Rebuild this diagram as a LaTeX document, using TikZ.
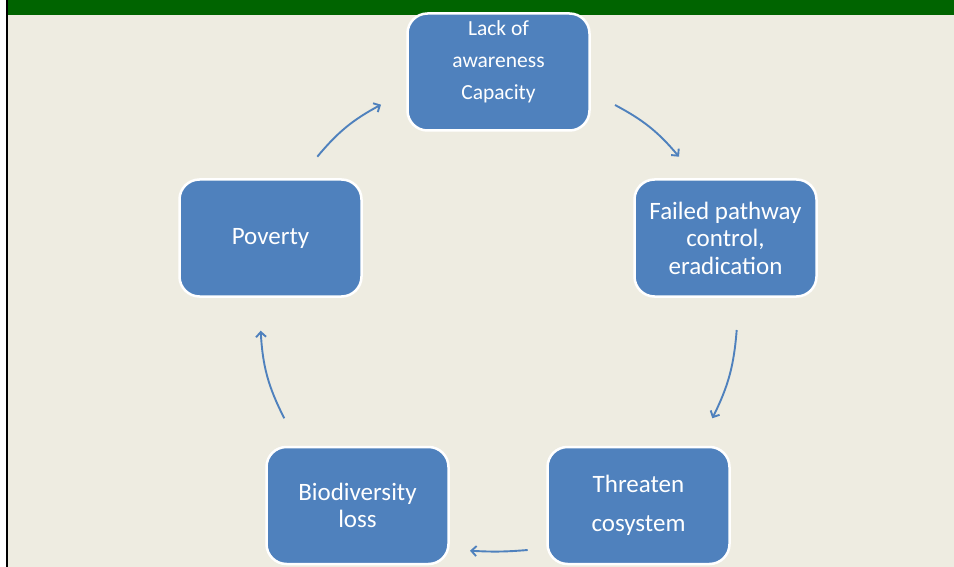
\documentclass[tikz,border=0pt]{standalone}
\usepackage{fontspec}
\setmainfont{Carlito}
\usetikzlibrary{arrows.meta}
\definecolor{bgbeige}{RGB}{238,236,225}
\definecolor{boxblue}{RGB}{79,129,189}
\definecolor{bargreen}{RGB}{0,100,0}
\tikzset{
  box/.style={draw=white, line width=2.5pt, fill=boxblue, rounded corners=20pt,
    minimum width=182pt, minimum height=117pt, inner sep=0pt, text=white,
    align=center, font=\fontsize{25}{27.5}\selectfont},
  boxtext/.style={inner sep=0pt, text=white, align=center},
  cyc/.style={draw=boxblue, line width=1.9pt, -{Straight Barb[length=5pt,width=10pt]}},
}
\begin{document}
\begin{tikzpicture}[x=1pt,y=-1pt]
\useasboundingbox (0,0) rectangle (954,567);
\fill[white] (0,0) rectangle (954,567);
\fill[bgbeige] (8.3,0) rectangle (954,567);
\fill[black] (6,0) rectangle (8.3,567);
\fill[bargreen] (8.3,0) rectangle (954,14.7);

\node[box] (lack) at (498.5,72) {};
\node[boxtext, font=\fontsize{21.5}{32.2}\selectfont] (lacktext) at (498.5,61.5) {Lack of\\awareness\\Capacity};
\node[box] (failed) at (725.5,238) {Failed pathway\\control,\\eradication};
\node[box, text depth=3pt] (poverty) at (270.5,238) {Poverty};
\node[box] (bio) at (357.5,505.5) {Biodiversity\\loss};
\node[box] (threat) at (638.5,505.5) {Threaten\\[10.9pt]cosystem};

\coordinate (a1s) at (615,105);   \coordinate (a1e) at (679,156.7);
\coordinate (a2s) at (736.7,330); \coordinate (a2e) at (712.3,418.3);
\coordinate (a3s) at (527.7,550); \coordinate (a3e) at (470,550.7);
\coordinate (a4s) at (284.3,418.3); \coordinate (a4e) at (260.7,330.7);
\coordinate (a5s) at (317.3,156.7); \coordinate (a5e) at (381,104.7);

\draw[cyc] (a1s) to[bend left=11] (a1e);
\draw[cyc] (a2s) to[bend left=11] (a2e);
\draw[cyc] (a3s) to[bend left=4] (a3e);
\draw[cyc] (a4s) to[bend left=12] (a4e);
\draw[cyc] (a5s) to[bend left=11] (a5e);
\end{tikzpicture}
\end{document}
